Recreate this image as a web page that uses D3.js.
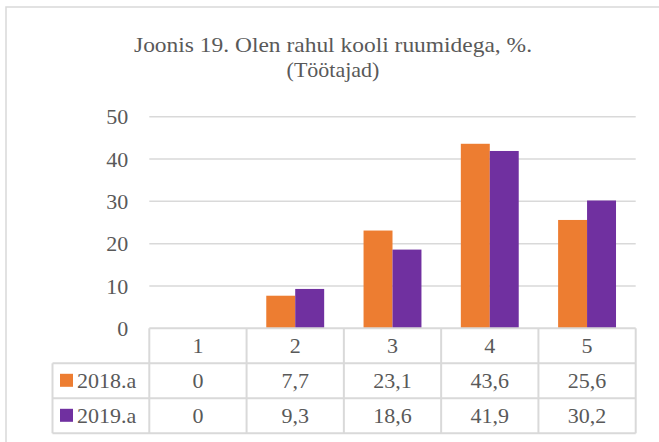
<!DOCTYPE html>
<html>
<head>
<meta charset="utf-8">
<script src="https://cdn.jsdelivr.net/npm/d3@7/dist/d3.min.js"></script>
<style>
  html, body { margin: 0; padding: 0; background: #fff; }
  svg { display: block; }
  svg text { font-family: "Liberation Serif", "Times New Roman", Times, "DejaVu Serif", serif !important; fill: #595959; }
</style>
</head>
<body>
<svg id="chart" width="659" height="442"></svg>
<script>
const titleLines = ["Joonis 19. Olen rahul kooli ruumidega, %.", "(Töötajad)"];
const categories = ["1", "2", "3", "4", "5"];
const seriesNames = ["2018.a", "2019.a"];
const values2018 = [0, 7.7, 23.1, 43.6, 25.6];
const values2019 = [0, 9.3, 18.6, 41.9, 30.2];
const valueLabels2018 = ["0", "7,7", "23,1", "43,6", "25,6"];
const valueLabels2019 = ["0", "9,3", "18,6", "41,9", "30,2"];
const yTicks = [0, 10, 20, 30, 40, 50];
const colors = ["#ED7D31", "#7030A0"];

const series = [
  { name: seriesNames[0], values: values2018, labels: valueLabels2018, color: colors[0] },
  { name: seriesNames[1], values: values2019, labels: valueLabels2019, color: colors[1] }
];

const FONT = '"Liberation Serif", "Times New Roman", Times, "DejaVu Serif", serif';
const svg = d3.select("#chart");
const W = 659, H = 442;
const gridColor = "#d9d9d9";
const fontSize = 22;

// outer chart border
svg.append("rect")
  .attr("x", 6).attr("y", 7).attr("width", W + 10).attr("height", H + 10)
  .attr("fill", "none").attr("stroke", gridColor).attr("stroke-width", 1.5);

// title
const title = svg.append("text").attr("text-anchor", "middle")
  .attr("font-family", FONT).style("font-size", "22px");
titleLines.forEach((t, i) => {
  const ts = title.append("tspan").attr("x", 333).attr("y", 52 + i * 25).text(t);
  if (i === 0) ts.attr("textLength", 398).attr("lengthAdjust", "spacingAndGlyphs");
});

const plot = { left: 149.3, right: 635.7, top: 116.7, bottom: 328.3 };
const x = d3.scaleBand().domain(categories).range([plot.left, plot.right]);
const xs = d3.scaleBand().domain(seriesNames).range([0, x.bandwidth()]).paddingInner(0).paddingOuter(0.68);
const y = d3.scaleLinear().domain([0, 50]).range([plot.bottom, plot.top]);

// gridlines
svg.append("g").selectAll("line").data(yTicks.filter(d => d > 0)).join("line")
  .attr("x1", plot.left).attr("x2", plot.right)
  .attr("y1", d => y(d)).attr("y2", d => y(d))
  .attr("stroke", gridColor).attr("stroke-width", 1.5);

// y axis labels
const yAxis = d3.axisLeft(y).tickValues(yTicks).tickSize(0).tickPadding(21).tickFormat(d3.format("d"));
const yg = svg.append("g").attr("transform", `translate(${plot.left},0)`).call(yAxis)
  .attr("font-family", FONT).attr("font-size", fontSize);
yg.select(".domain").remove();
yg.selectAll("text").attr("fill", "#595959");

// bars
const bars = svg.append("g");
series.forEach(s => {
  bars.selectAll(null).data(categories).join("rect")
    .attr("x", (c) => x(c) + xs(s.name))
    .attr("width", xs.bandwidth())
    .attr("y", (c, i) => y(s.values[i]))
    .attr("height", (c, i) => y(0) - y(s.values[i]))
    .attr("fill", s.color);
});

// data table
const rowH = 35;
const tableTop = plot.bottom;
const legendLeft = 52.5;
const tg = svg.append("g").attr("font-family", FONT);
const lineStyle = sel => sel.attr("stroke", gridColor).attr("stroke-width", 2).attr("fill", "none");

tg.append("line").attr("x1", plot.left).attr("x2", plot.right).attr("y1", tableTop).attr("y2", tableTop).call(lineStyle);
[1, 2, 3].forEach(r => {
  tg.append("line").attr("x1", legendLeft).attr("x2", plot.right)
    .attr("y1", tableTop + r * rowH).attr("y2", tableTop + r * rowH).call(lineStyle);
});
const bounds = categories.map(c => x(c)).concat([plot.right]);
bounds.forEach(bx => {
  tg.append("line").attr("x1", bx).attr("x2", bx).attr("y1", tableTop).attr("y2", tableTop + 3 * rowH).call(lineStyle);
});
tg.append("line").attr("x1", legendLeft).attr("x2", legendLeft)
  .attr("y1", tableTop + rowH).attr("y2", tableTop + 3 * rowH).call(lineStyle);

tg.selectAll(null).data(categories).join("text")
  .attr("x", c => x(c) + x.bandwidth() / 2)
  .attr("y", tableTop + rowH / 2 + 7.5)
  .attr("text-anchor", "middle").style("font-size", fontSize + "px")
  .text(c => c);

series.forEach((s, r) => {
  const cy = tableTop + (r + 1) * rowH + rowH / 2;
  tg.append("rect").attr("x", 60).attr("y", cy - 7).attr("width", 13).attr("height", 13).attr("fill", s.color);
  tg.append("text").attr("x", 77).attr("y", cy + 7.5).style("font-size", fontSize + "px").text(s.name);
  tg.selectAll(null).data(categories).join("text")
    .attr("x", c => x(c) + x.bandwidth() / 2)
    .attr("y", cy + 7.5)
    .attr("text-anchor", "middle").style("font-size", fontSize + "px")
    .text((c, i) => s.labels[i]);
});
</script>
</body>
</html>
